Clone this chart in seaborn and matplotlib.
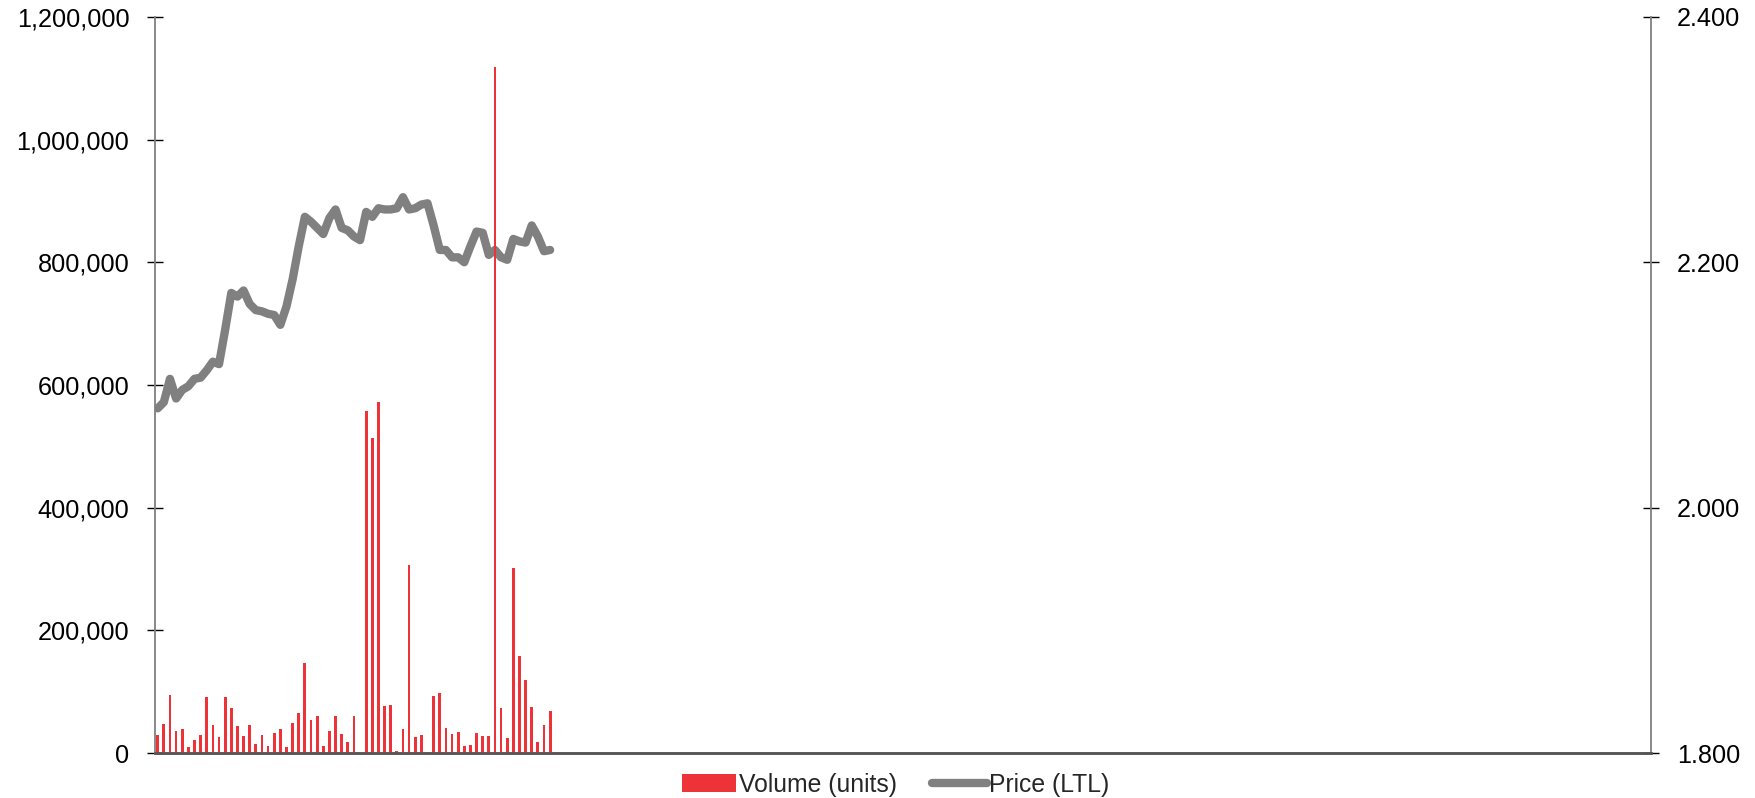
import numpy as np
import pandas as pd
import matplotlib
matplotlib.use("Agg")
import matplotlib.pyplot as plt
from matplotlib.patches import Patch
from matplotlib.lines import Line2D
from matplotlib.ticker import FuncFormatter, MultipleLocator
import seaborn as sns

# Daily trading volume (units) and closing price (LTL)
volume = [29000, 48000, 95000, 36000, 40000, 10000, 22000, 30000, 92000, 46000,
          27000, 92000, 73000, 44000, 28000, 46000, 15000, 29000, 11000, 33000,
          39000, 10000, 50000, 65000, 147000, 54000, 61000, 12000, 36000, 61000,
          31000, 19000, 61000, 0, 558000, 513000, 573000, 77000, 79000, 4000,
          40000, 306000, 26000, 30000, 1000, 94000, 98000, 41000, 31000, 35000,
          11000, 13000, 33000, 28000, 28000, 1118000, 74000, 25000, 301000, 158000,
          120000, 76000, 18000, 46000, 69000]

price = [2.081, 2.086, 2.105, 2.089, 2.096, 2.099, 2.105, 2.106, 2.112, 2.119,
         2.117, 2.145, 2.175, 2.172, 2.177, 2.166, 2.161, 2.160, 2.158, 2.157,
         2.149, 2.164, 2.186, 2.213, 2.237, 2.233, 2.228, 2.223, 2.236, 2.243,
         2.228, 2.226, 2.221, 2.218, 2.241, 2.237, 2.244, 2.243, 2.243, 2.244,
         2.253, 2.243, 2.244, 2.247, 2.248, 2.230, 2.210, 2.210, 2.204, 2.204,
         2.200, 2.213, 2.225, 2.224, 2.206, 2.210, 2.204, 2.202, 2.219, 2.217,
         2.216, 2.230, 2.221, 2.209, 2.210]

volume_label = "Volume (units)"
price_label = "Price (LTL)"
n_slots = 244  # trading days shown on the horizontal axis

df = pd.DataFrame({"day": np.arange(len(volume)), "volume": volume, "price": price})

sns.set_style("white")
plt.rcParams["font.family"] = ["Liberation Sans", "DejaVu Sans"]

BAR_RED = "#EE3338"
LINE_GREY = "#808080"
TICK_FS = 18.2
LEGEND_FS = 17.8
LINE_W = 6.0

fig = plt.figure(figsize=(17.56, 7.98), dpi=100)
ax = fig.add_axes([0.0881, 0.0561, 0.8523, 0.9229])
ax2 = ax.twinx()

sns.lineplot(data=df, x="day", y="price", ax=ax2, color=LINE_GREY,
             linewidth=LINE_W, solid_capstyle="round", solid_joinstyle="round",
             legend=False)
sns.barplot(data=df, x="day", y="volume", ax=ax, native_scale=True,
            color=BAR_RED, saturation=1, width=0.45, linewidth=0)

# bars sit above the price line
ax.set_zorder(ax2.get_zorder() + 1)
ax.patch.set_visible(False)

ax.set_xlim(-0.49, n_slots - 0.4)
ax.set_ylim(0, 1200000)
ax2.set_ylim(1.8, 2.4)
ax.yaxis.set_major_locator(MultipleLocator(200000))
ax2.yaxis.set_major_locator(MultipleLocator(0.2))
ax.yaxis.set_major_formatter(FuncFormatter(lambda v, p: f"{v:,.0f}"))
ax2.yaxis.set_major_formatter(FuncFormatter(lambda v, p: f"{v:.3f}"))

for a in (ax, ax2):
    a.set_xlabel("")
    a.set_ylabel("")
    a.set_xticks([])
    a.spines["top"].set_visible(False)
    a.tick_params(axis="y", direction="inout", length=12, width=1.0,
                  color="black", labelsize=TICK_FS, pad=12.3, labelcolor="black")
    for s in ("left", "right"):
        a.spines[s].set_color("#808080")
        a.spines[s].set_linewidth(1.3)
    a.spines["bottom"].set_color("#555555")
    a.spines["bottom"].set_linewidth(1.8)
ax.spines["right"].set_visible(False)
ax2.spines["left"].set_visible(False)
ax2.grid(False)
ax.grid(False)

handles = [Patch(facecolor=BAR_RED, edgecolor="none", label=volume_label),
           Line2D([], [], color=LINE_GREY, linewidth=LINE_W, solid_capstyle="round",
                  label=price_label)]
fig.legend(handles=handles, loc="center", bbox_to_anchor=(0.5100, 0.0168),
           ncol=2, frameon=False, fontsize=LEGEND_FS, borderpad=0, handlelength=2.2,
           handletextpad=0.1, columnspacing=1.45, handleheight=0.7)

fig.savefig("out.png", dpi=100)
